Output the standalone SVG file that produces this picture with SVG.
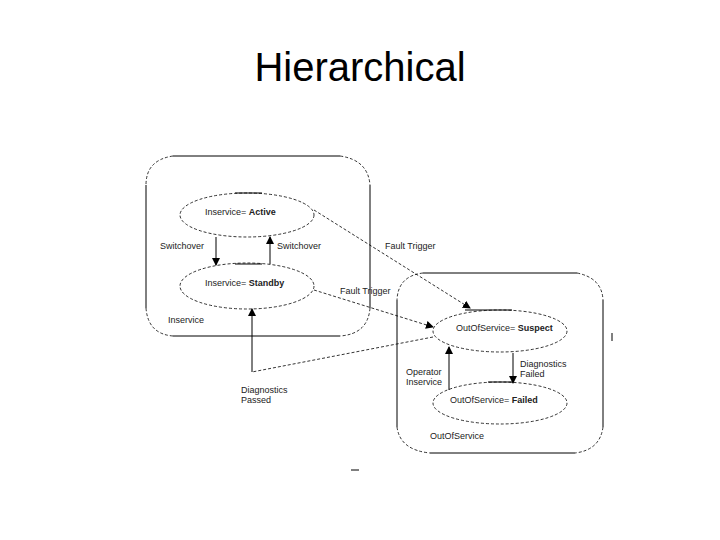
<svg xmlns="http://www.w3.org/2000/svg" width="720" height="540" viewBox="0 0 720 540">
<defs>
<marker id="ah" markerWidth="8" markerHeight="8" refX="7" refY="4" orient="auto" markerUnits="userSpaceOnUse">
<path d="M0,0 L8,4 L0,8 Z" fill="#000"/>
</marker>
<style>
.t{font-family:"Liberation Sans",Arial,sans-serif;font-size:9px;fill:#222}
.b{font-weight:bold}
.s{fill:none;stroke:#000;stroke-width:1}
.d{fill:none;stroke:#000;stroke-width:0.8;stroke-dasharray:3,2}
</style>
</defs>
<rect width="720" height="540" fill="#fff"/>
<text x="360" y="81" text-anchor="middle" style="font-family:'Liberation Sans',Arial,sans-serif;font-size:40px;fill:#000">Hierarchical</text>

<g id="inservice-box">
<path class="d" d="M173,156 Q146,160 146,185 M340,156 Q368,160 370,185 M146,308 Q148,334 173,336 M370,308 Q368,334 340,336"/>
<path class="s" d="M173,156 H340 M146,185 V308 M370,185 V308 M173,336 H340"/>
<text class="t" x="168" y="323">Inservice</text>
</g>

<g id="active">
<ellipse class="d" cx="247" cy="215" rx="67" ry="22"/>
<line class="s" x1="235" y1="193" x2="262" y2="193"/>
<text class="t" x="205" y="215">Inservice= <tspan class="b">Active</tspan></text>
</g>

<g id="standby">
<ellipse class="d" cx="247" cy="286" rx="67" ry="23"/>
<line class="s" x1="235" y1="264" x2="262" y2="264"/>
<text class="t" x="205" y="286">Inservice= <tspan class="b">Standby</tspan></text>
</g>

<g id="outofservice-box">
<path class="d" d="M423,273 Q398,276 397,300 M577,273 Q602,278 603,300 M397,427 Q400,450 430,453 M603,427 Q600,450 575,453"/>
<path class="s" d="M423,273 H577 M397,300 V427 M603,300 V427 M430,453 H575"/>
<text class="t" x="430" y="439">OutOfService</text>
</g>

<g id="suspect">
<ellipse class="d" cx="500" cy="331" rx="67" ry="21"/>
<line class="s" x1="465" y1="310" x2="512" y2="310"/>
<text class="t" x="456" y="331">OutOfService= <tspan class="b">Suspect</tspan></text>
</g>

<g id="failed">
<ellipse class="d" cx="500" cy="403" rx="67" ry="21"/>
<line class="s" x1="488" y1="382" x2="513" y2="382"/>
<text class="t" x="450" y="403">OutOfService= <tspan class="b">Failed</tspan></text>
</g>

<g id="connectors">
<line class="s" x1="216" y1="237" x2="216" y2="265" marker-end="url(#ah)"/>
<text class="t" x="160" y="249">Switchover</text>
<line class="s" x1="270" y1="264" x2="270" y2="237" marker-end="url(#ah)"/>
<text class="t" x="277" y="249">Switchover</text>

<line class="d" x1="314" y1="210" x2="470" y2="308" marker-end="url(#ah)"/>
<text class="t" x="385" y="249">Fault Trigger</text>
<line class="d" x1="314" y1="290" x2="433" y2="327" marker-end="url(#ah)"/>
<text class="t" x="340" y="294">Fault Trigger</text>

<path class="d" d="M433,337 L252,372"/>
<line class="s" x1="252" y1="372" x2="252" y2="309" marker-end="url(#ah)"/>
<text class="t" x="241" y="393">Diagnostics</text>
<text class="t" x="241" y="403">Passed</text>

<line class="s" x1="449" y1="390" x2="449" y2="347" marker-end="url(#ah)"/>
<text class="t" x="406" y="375">Operator</text>
<text class="t" x="406" y="385">Inservice</text>
<line class="s" x1="513" y1="353" x2="513" y2="383" marker-end="url(#ah)"/>
<text class="t" x="520" y="367">Diagnostics</text>
<text class="t" x="520" y="377">Failed</text>
</g>
<line class="s" x1="612" y1="333" x2="612" y2="341"/>
<line class="s" x1="351" y1="470" x2="359" y2="470"/>
</svg>
